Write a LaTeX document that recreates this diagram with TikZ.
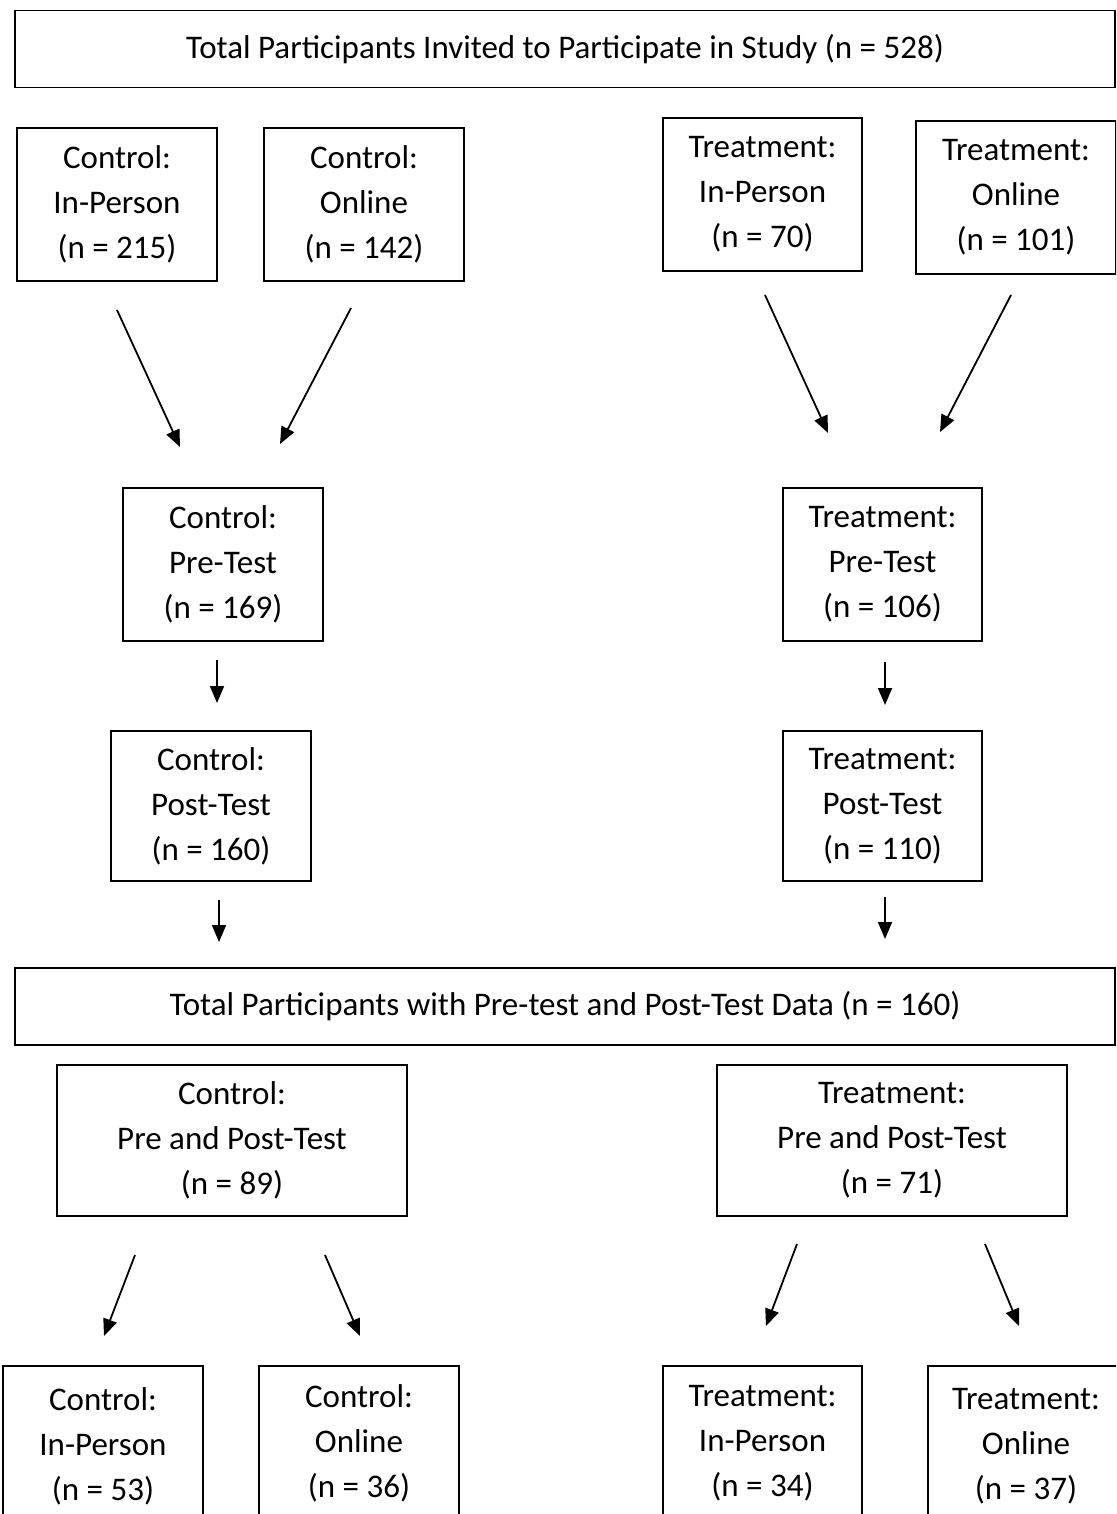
\documentclass[tikz,border=0pt]{standalone}
\usepackage{fontspec}
\setmainfont{Carlito}
\usetikzlibrary{arrows.meta}
\tikzset{
  box/.style={draw=black, line width=1.6pt, fill=white, inner sep=0pt, align=center,
    font=\fontsize{33}{45}\selectfont},
  flow/.style={line width=1.8pt, -{Triangle[length=17pt,width=14pt]}}
}
\begin{document}
\begin{tikzpicture}[x=1pt,y=-1pt]
\useasboundingbox (0,0) rectangle (1116,1514);
\clip (0,0) rectangle (1116,1514);
\fill[white] (0,0) rectangle (1116,1514);
% wide boxes
\node[box, minimum width=1100, minimum height=77] (top) at (565,49) {Total Participants Invited to Participate in Study (n = 528)};
\node[box, minimum width=1100, minimum height=77] (mid) at (565,1006.5) {Total Participants with Pre-test and Post-Test Data (n = 160)};
% first row
\node[box, minimum width=200, minimum height=153] (cip) at (117,204.5) {Control:\\In-Person\\(n = 215)};
\node[box, minimum width=200, minimum height=153] (con) at (364,204.5) {Control:\\Online\\(n = 142)};
\node[box, minimum width=199, minimum height=153] (tip) at (762.5,194.5) {Treatment:\\In-Person\\(n = 70)};
\node[box, minimum width=200, minimum height=153] (ton) at (1016,197.5) {Treatment:\\Online\\(n = 101)};
% pre-test
\node[box, minimum width=200, minimum height=153] (cpre) at (223,564.5) {Control:\\Pre-Test\\(n = 169)};
\node[box, minimum width=199, minimum height=153] (tpre) at (882.5,564.5) {Treatment:\\Pre-Test\\(n = 106)};
% post-test
\node[box, minimum width=200, minimum height=150] (cpost) at (211,806) {Control:\\Post-Test\\(n = 160)};
\node[box, minimum width=199, minimum height=150] (tpost) at (882.5,806) {Treatment:\\Post-Test\\(n = 110)};
% pre and post
\node[box, minimum width=350, minimum height=151] (cpp) at (232,1140.5) {Control:\\Pre and Post-Test\\(n = 89)};
\node[box, minimum width=350, minimum height=151] (tpp) at (892,1140.5) {Treatment:\\Pre and Post-Test\\(n = 71)};
% bottom row
\node[box, minimum width=200, minimum height=160] (bcip) at (103,1446) {Control:\\In-Person\\(n = 53)};
\node[box, minimum width=200, minimum height=154] (bcon) at (359,1443) {Control:\\Online\\(n = 36)};
\node[box, minimum width=199, minimum height=154] (btip) at (762.5,1443) {Treatment:\\In-Person\\(n = 34)};
\node[box, minimum width=196, minimum height=160] (bton) at (1026,1446) {Treatment:\\Online\\(n = 37)};
% arrow end points
\coordinate (a1s) at (117,310);  \coordinate (a1e) at (180,447);
\coordinate (a2s) at (351,308);  \coordinate (a2e) at (280,444);
\coordinate (a3s) at (765,295);  \coordinate (a3e) at (828,433);
\coordinate (a4s) at (1011,295); \coordinate (a4e) at (940,432);
\coordinate (a5s) at (217,660);  \coordinate (a5e) at (217,703);
\coordinate (a6s) at (885,662);  \coordinate (a6e) at (885,705);
\coordinate (a7s) at (219,900);  \coordinate (a7e) at (219,942);
\coordinate (a8s) at (885,897);  \coordinate (a8e) at (885,939);
\coordinate (a9s) at (135,1255); \coordinate (a9e) at (104,1336);
\coordinate (a10s) at (325,1255); \coordinate (a10e) at (360,1336);
\coordinate (a11s) at (797,1244); \coordinate (a11e) at (766,1326);
\coordinate (a12s) at (985,1244); \coordinate (a12e) at (1019,1326);
\foreach \i in {1,...,12} { \draw[flow] (a\i s) -- (a\i e); }
\end{tikzpicture}
\end{document}
